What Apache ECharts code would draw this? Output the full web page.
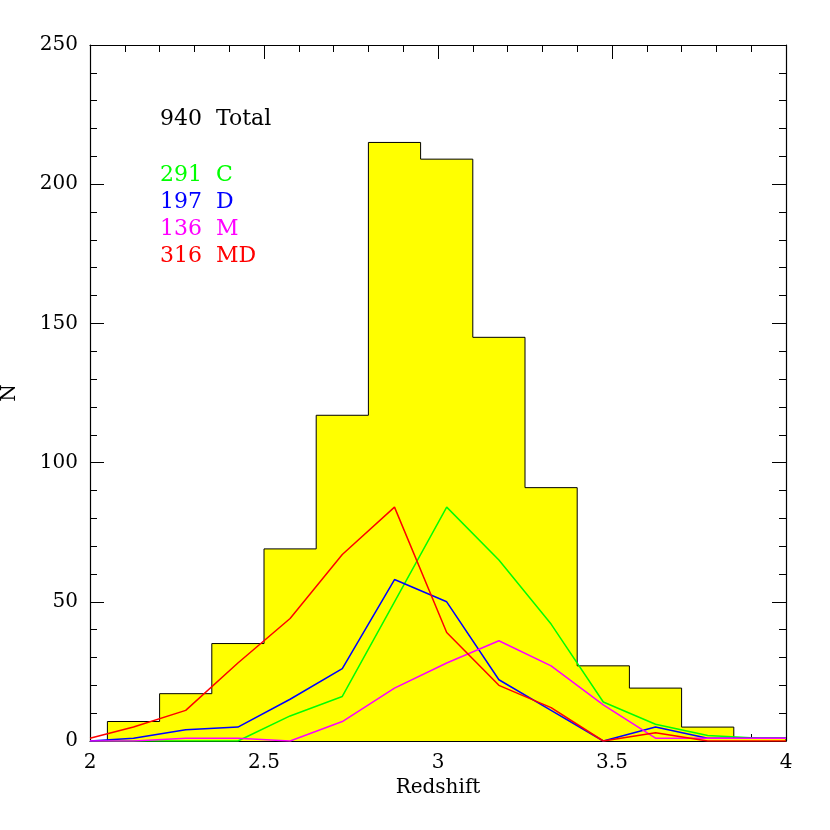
<!DOCTYPE html><html><head><meta charset="utf-8">
<script src="https://cdn.jsdelivr.net/npm/echarts@6/dist/echarts.min.js"></script>
<style>html,body{margin:0;background:#fff}#c{width:830px;height:830px}</style></head><body><div id="c"></div>
<script>
const binEdges=[2.05,2.2,2.35,2.5,2.65,2.8,2.95,3.1,3.25,3.4,3.55,3.7,3.85,4.0];
const totalCounts=[7,17,35,69,117,215,209,145,91,27,19,5,1];
const lineX=[2.0,2.125,2.275,2.425,2.575,2.725,2.875,3.025,3.175,3.325,3.475,3.625,3.775,3.925,4.0];
const cVals=[0,0,0,0,9,16,50,84,65,42,14,6,2,1,1];
const dVals=[0,1,4,5,15,26,58,50,22,11,0,5,1,1,1];
const mVals=[0,0,1,1,0,7,19,28,36,27,13,1,1,1,1];
const mdVals=[1,5,11,28,44,67,84,39,20,12,0,3,0,0,0];
const labels=[["940  Total","#000",120],["291  C","#00ff00",176],["197  D","#0000ff",203],["136  M","#ff00ff",230],["316  MD","#ff0000",257]];
const F="DejaVu Serif";
const hist=[[binEdges[0],0]].concat(totalCounts.map((v,i)=>[binEdges[i],v])).concat([[binEdges[binEdges.length-1],totalCounts[totalCounts.length-1]],[binEdges[binEdges.length-1],0]]);
const pairs=v=>lineX.map((x,i)=>[x,v[i]]);
const ax=(show,name,min,max,int,minorN)=>({type:'value',min,max,interval:int,name:show?name:'',nameLocation:'middle',
 nameTextStyle:{fontFamily:F,fontSize:20,color:'#000'},
 axisLine:{show:true,onZero:false,lineStyle:{color:'#000',width:1.2}},
 axisTick:{show:true,inside:true,length:14,lineStyle:{color:'#000'}},
 minorTick:{show:true,splitNumber:minorN,length:7,lineStyle:{color:'#000'}},
 axisLabel:{show:show,fontFamily:F,fontSize:20,color:'#000',margin:12},splitLine:{show:false}});
const xa0=ax(true,'Redshift',2,4,0.5,5);xa0.nameGap=30;
const xa1=ax(false,'',2,4,0.5,5);xa1.position='top';
const ya0=ax(true,'N',0,250,50,5);ya0.nameGap=70;
const ya1=ax(false,'',0,250,50,5);ya1.position='right';
const ln=(d,c)=>({type:'line',data:pairs(d),symbol:'none',lineStyle:{color:c,width:1.5},z:5});
const ch=echarts.init(document.getElementById('c'));
ch.setOption({animation:false,
 grid:{left:90,right:44,top:45,bottom:89,containLabel:false,outerBoundsMode:'none'},
 xAxis:[xa0,xa1],yAxis:[ya0,ya1],
 series:[{type:'line',step:'end',data:hist,symbol:'none',lineStyle:{color:'#000',width:1},areaStyle:{color:'#ffff00',opacity:1},z:2},
  ln(cVals,'#00ff00'),ln(dVals,'#0000ff'),ln(mVals,'#ff00ff'),ln(mdVals,'#ff0000')],
 graphic:labels.map(l=>({type:'text',left:160,top:l[2]-12,style:{text:l[0],fill:l[1],font:'22px "'+F+'"'}}))
});
</script></body></html>
